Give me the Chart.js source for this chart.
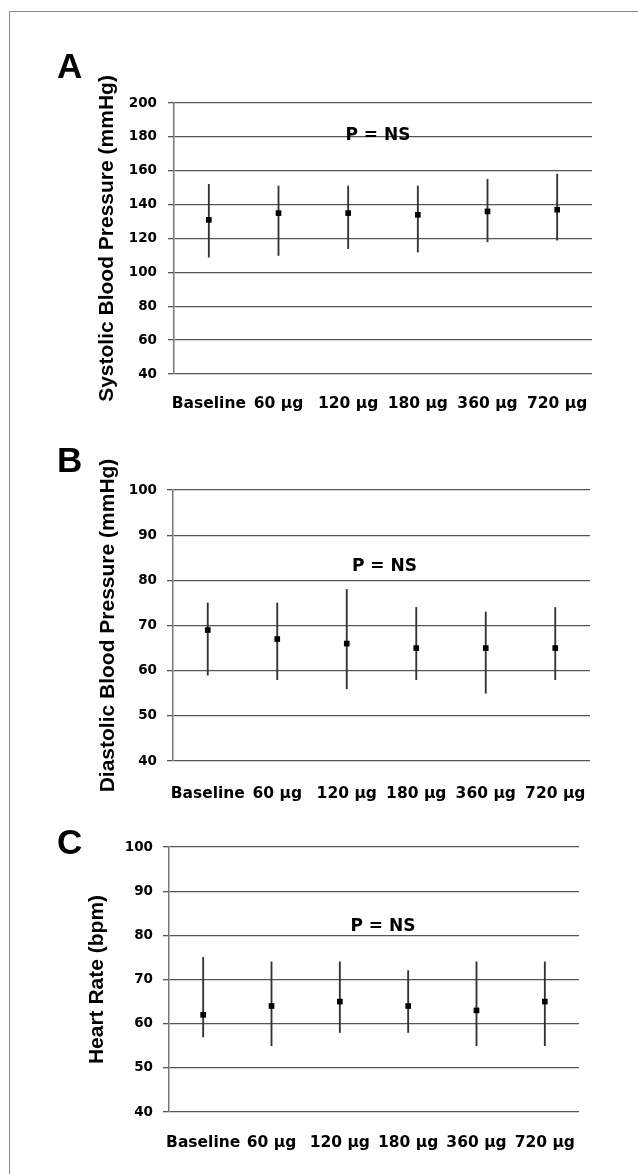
<!DOCTYPE html>
<html>
<head>
<meta charset="utf-8">
<script src="https://cdn.jsdelivr.net/npm/chart.js@4"></script>
<style>
  html, body { margin: 0; padding: 0; background: #fff; }
  #page { position: relative; width: 638px; height: 1174px; overflow: hidden; }
  #frame { position: absolute; left: 9px; top: 11px; width: 700px; height: 1200px;
           border-left: 1.5px solid #888; border-top: 1.5px solid #888; }
  canvas { position: absolute; left: 0; top: 0; }
</style>
</head>
<body>
<div id="page">
  <div id="frame"></div>
  <canvas id="chartA" width="638" height="1174"></canvas>
  <canvas id="chartB" width="638" height="1174"></canvas>
  <canvas id="chartC" width="638" height="1174"></canvas>
</div>
<script>
// categories
const doses = ['Baseline', '60 \u00b5g', '120 \u00b5g', '180 \u00b5g', '360 \u00b5g', '720 \u00b5g'];

// A - systolic
const sbpMean = [131, 135, 135, 134, 136, 137];
const sbpLow  = [109, 110, 114, 112, 118, 119];
const sbpHigh = [152, 151, 151, 151, 155, 158];

// B - diastolic
const dbpMean = [69, 67, 66, 65, 65, 65];
const dbpLow  = [59, 58, 56, 58, 55, 58];
const dbpHigh = [75, 75, 78, 74, 73, 74];

// C - heart rate
const hrMean = [62, 64, 65, 64, 63, 65];
const hrLow  = [57, 55, 58, 58, 55, 55];
const hrHigh = [75, 74, 74, 72, 74, 74];

const sbpTicks = [40, 200, 20];
const smallTicks = [40, 100, 10];

const LABEL_FONT = 'DejaVu Sans';
const TITLE_FONT = 'Liberation Sans';
const GRID = '#555';

Chart.defaults.color = '#000';

// panel letter + "P = NS" note
const panelText = {
  id: 'panelText',
  afterDraw(chart, args, opts) {
    const ctx = chart.ctx;
    const area = chart.chartArea;
    ctx.save();
    ctx.fillStyle = '#000';
    ctx.font = 'bold 35px "' + TITLE_FONT + '"';
    ctx.textAlign = 'left';
    ctx.textBaseline = 'alphabetic';
    ctx.fillText(opts.letter, opts.letterX, opts.letterY);

    ctx.font = 'bold 17px "' + LABEL_FONT + '"';
    ctx.textAlign = 'center';
    ctx.textBaseline = 'middle';
    const y = chart.scales.y.getPixelForValue(opts.noteValue);
    ctx.fillText('P = NS', (area.left + area.right) / 2 + opts.noteDx, y);
    ctx.restore();
  }
};

function makePanel(id, cfg) {
  const errBars = cfg.low.map((v, i) => [v, cfg.high[i]]);
  const padLeft = cfg.titleX - 12.6;
  new Chart(document.getElementById(id), {
    type: 'bar',
    data: {
      labels: doses,
      datasets: [
        {
          type: 'line',
          data: cfg.mean,
          showLine: false,
          pointStyle: 'rect',
          pointRadius: 4,
          pointBorderWidth: 0,
          pointBackgroundColor: '#000',
          borderColor: '#000',
          order: 0
        },
        {
          data: errBars,
          backgroundColor: '#333',
          borderWidth: 0,
          barThickness: 1.2,
          order: 1
        }
      ]
    },
    options: {
      responsive: false,
      animation: false,
      devicePixelRatio: 1,
      layout: {
        padding: {
          left: padLeft,
          top: cfg.top,
          right: 638 - cfg.right,
          bottom: 1174 - cfg.bottom - 60
        }
      },
      plugins: {
        legend: { display: false },
        tooltip: { enabled: false },
        panelText: {
          letter: cfg.letter, letterX: 57, letterY: cfg.letterY,
          noteValue: cfg.noteValue, noteDx: cfg.noteDx
        }
      },
      scales: {
        x: {
          grid: { display: false, drawTicks: false },
          border: { display: false },
          ticks: {
            padding: cfg.xPad,
            maxRotation: 0,
            autoSkip: false,
            font: { family: LABEL_FONT, size: 15.5, weight: 'bold' }
          },
          afterFit: s => { s.height = 60; }
        },
        y: {
          min: cfg.ticks[0],
          max: cfg.ticks[1],
          ticks: {
            stepSize: cfg.ticks[2],
            padding: cfg.yPad,
            font: { family: LABEL_FONT, size: 13.5, weight: 'bold' }
          },
          grid: { color: GRID, lineWidth: 1.3, tickLength: 6 },
          border: { color: '#777', width: 1.5 },
          title: {
            display: true,
            text: cfg.title,
            padding: 0,
            font: { family: TITLE_FONT, size: 21, weight: 'bold' }
          },
          afterFit: s => { s.width = cfg.left - padLeft; }
        }
      }
    },
    plugins: [panelText]
  });
}

makePanel('chartA', {
  mean: sbpMean, low: sbpLow, high: sbpHigh, ticks: sbpTicks,
  title: 'Systolic Blood Pressure (mmHg)',
  left: 174, right: 592, top: 103, bottom: 374,
  titleX: 107, yPad: 11, xPad: 21,
  letter: 'A', letterY: 78, noteValue: 181, noteDx: -5
});

makePanel('chartB', {
  mean: dbpMean, low: dbpLow, high: dbpHigh, ticks: smallTicks,
  title: 'Diastolic Blood Pressure (mmHg)',
  left: 173, right: 590, top: 490, bottom: 761,
  titleX: 108, yPad: 10, xPad: 24,
  letter: 'B', letterY: 472, noteValue: 83, noteDx: 3
});

makePanel('chartC', {
  mean: hrMean, low: hrLow, high: hrHigh, ticks: smallTicks,
  title: 'Heart Rate (bpm)',
  left: 169, right: 579, top: 847, bottom: 1112,
  titleX: 97, yPad: 10, xPad: 22,
  letter: 'C', letterY: 854, noteValue: 82, noteDx: 9
});
</script>
</body>
</html>
